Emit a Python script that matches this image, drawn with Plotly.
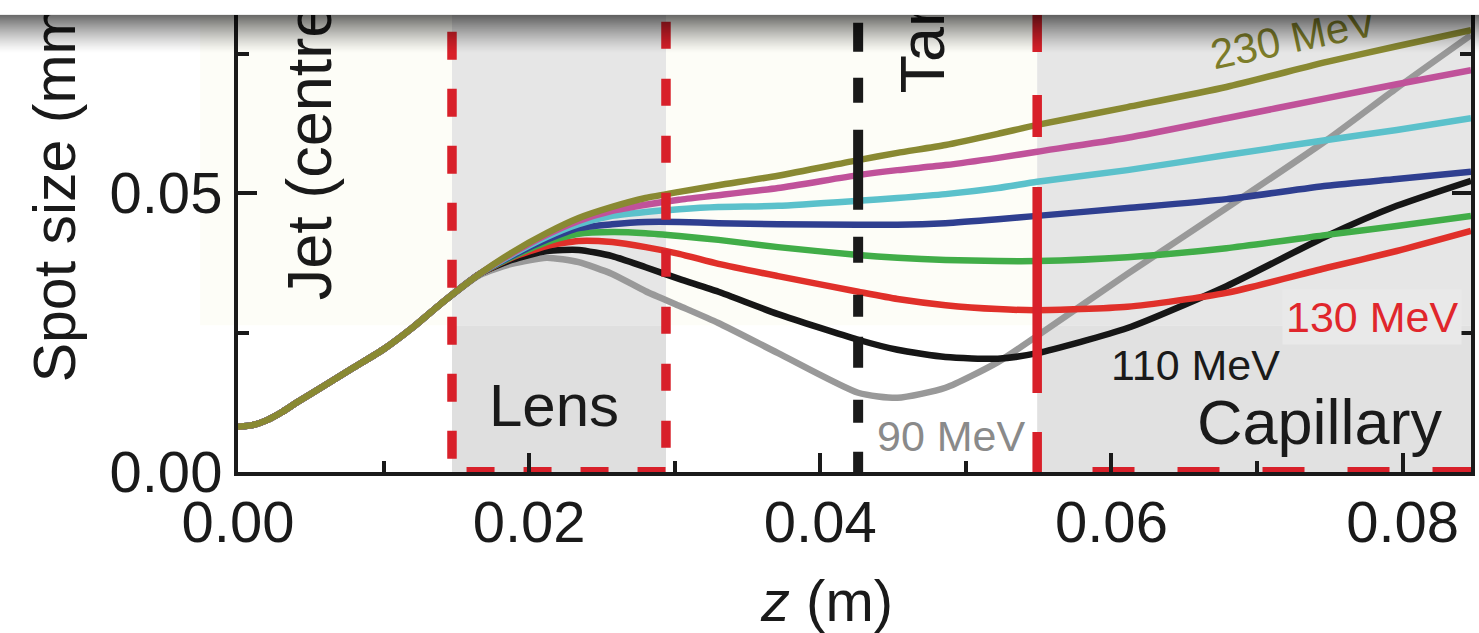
import plotly.graph_objects as go

# ---- data -------------------------------------------------------------
# beam axis position z (m) where all energies share the same envelope
Z_COMMON = [0.000, 0.001, 0.002, 0.003, 0.004, 0.006, 0.008, 0.010, 0.012, 0.014]
SPOT_COMMON = [0.0081, 0.0084, 0.0093, 0.0107, 0.0124, 0.0156, 0.0188, 0.0220, 0.0259, 0.0303]

# z positions (m) after the envelopes separate inside the lens
Z_SPLIT = [0.0166, 0.0188, 0.0212, 0.0234, 0.0257, 0.0280, 0.0303, 0.0330, 0.0371,
           0.0426, 0.0453, 0.0486, 0.0522, 0.0549, 0.0611, 0.0679, 0.0748, 0.0796, 0.0847]

ENERGIES = ["90 MeV", "110 MeV", "130 MeV", "150 MeV", "170 MeV", "190 MeV", "210 MeV", "230 MeV"]

SPOT_90 = [0.0353, 0.0373, 0.0384, 0.0376, 0.0355, 0.0324, 0.0298, 0.0267, 0.0213, 0.0142,
           0.0133, 0.0151, 0.0197, 0.0244, 0.0355, 0.0473, 0.0595, 0.0688, 0.0783]
SPOT_110 = [0.0355, 0.0380, 0.0396, 0.0398, 0.0387, 0.0367, 0.0346, 0.0323, 0.0283, 0.0237,
            0.0219, 0.0206, 0.0203, 0.0213, 0.0258, 0.0333, 0.0423, 0.0477, 0.0522]
SPOT_130 = [0.0355, 0.0384, 0.0405, 0.0414, 0.0412, 0.0403, 0.0391, 0.0373, 0.0351, 0.0323,
            0.0310, 0.0299, 0.0292, 0.0290, 0.0296, 0.0321, 0.0366, 0.0396, 0.0432]
SPOT_150 = [0.0355, 0.0385, 0.0412, 0.0427, 0.0430, 0.0428, 0.0423, 0.0416, 0.0403, 0.0389,
            0.0384, 0.0380, 0.0378, 0.0378, 0.0385, 0.0401, 0.0425, 0.0441, 0.0459]
SPOT_170 = [0.0355, 0.0387, 0.0416, 0.0437, 0.0444, 0.0448, 0.0448, 0.0446, 0.0444, 0.0443,
            0.0443, 0.0446, 0.0453, 0.0459, 0.0473, 0.0489, 0.0513, 0.0525, 0.0538]
SPOT_190 = [0.0355, 0.0389, 0.0421, 0.0444, 0.0459, 0.0466, 0.0471, 0.0475, 0.0477, 0.0486,
            0.0491, 0.0498, 0.0509, 0.0520, 0.0541, 0.0568, 0.0595, 0.0613, 0.0634]
SPOT_210 = [0.0355, 0.0391, 0.0425, 0.0450, 0.0468, 0.0479, 0.0488, 0.0496, 0.0509, 0.0532,
            0.0541, 0.0550, 0.0563, 0.0574, 0.0599, 0.0634, 0.0670, 0.0695, 0.0720]
SPOT_230 = [0.0355, 0.0393, 0.0428, 0.0455, 0.0475, 0.0491, 0.0502, 0.0514, 0.0531, 0.0559,
            0.0572, 0.0586, 0.0606, 0.0622, 0.0654, 0.0690, 0.0735, 0.0763, 0.0792]

SPOTS = [SPOT_90, SPOT_110, SPOT_130, SPOT_150, SPOT_170, SPOT_190, SPOT_210, SPOT_230]
COLORS = ["#999999", "#161616", "#e0302a", "#41ad48", "#2f3f90", "#5bc1cb", "#c0529a", "#898932"]

# beamline elements along z (m)
LENS_START, LENS_END = 0.0147, 0.0294
TARGET_Z = 0.0426
CAPILLARY_START = 0.0549

X_TICKS = [0.00, 0.02, 0.04, 0.06, 0.08]
Y_TICKS = [0.00, 0.05]

# ---- geometry / style -------------------------------------------------
XMAX, YMAX = 0.0847, 0.0819
W, H = 1479, 633
ML, MR, MT, MB = 238, 4, 15, 161
PW, PH = W - ML - MR, H - MT - MB
FONT = "Liberation Sans, Arial, Helvetica, sans-serif"
INK = "#1a1a1a"
RED = "#d8202a"
CREAM = "#fdfdf7"
JET_EDGE = 0.0263          # lower edge of the jet highlight (spot-size units)


def px_x(px):
    """horizontal page pixel -> paper fraction"""
    return (px - ML) / PW


def px_y(py):
    """vertical page pixel -> paper fraction"""
    return (H - MB - py) / PH


fig = go.Figure()

for name, color, spot in zip(ENERGIES, COLORS, SPOTS):
    fig.add_trace(go.Scatter(
        x=Z_COMMON + Z_SPLIT, y=SPOT_COMMON + spot, mode="lines", name=name,
        line=dict(color=color, width=6.5, shape="spline", smoothing=0.6),
        hoverinfo="skip", showlegend=False))

shapes = []

# background regions
shapes.append(dict(type="rect", xref="paper", yref="paper", x0=px_x(200), x1=LENS_START / XMAX,
                   y0=JET_EDGE / YMAX, y1=1.0, fillcolor=CREAM, line_width=0, layer="below"))
shapes.append(dict(type="rect", xref="x", yref="y", x0=LENS_END, x1=CAPILLARY_START,
                   y0=JET_EDGE, y1=YMAX, fillcolor=CREAM, line_width=0, layer="below"))
shapes.append(dict(type="rect", xref="x", yref="y", x0=LENS_START, x1=LENS_END,
                   y0=0, y1=JET_EDGE, fillcolor="#dfdfdf", line_width=0, layer="below"))
shapes.append(dict(type="rect", xref="x", yref="y", x0=LENS_START, x1=LENS_END,
                   y0=JET_EDGE, y1=YMAX, fillcolor="#e6e6e6", line_width=0, layer="below"))
shapes.append(dict(type="rect", xref="x", yref="y", x0=CAPILLARY_START, x1=XMAX,
                   y0=0, y1=JET_EDGE, fillcolor="#e1e1e1", line_width=0, layer="below"))
shapes.append(dict(type="rect", xref="x", yref="y", x0=CAPILLARY_START, x1=XMAX,
                   y0=JET_EDGE, y1=YMAX, fillcolor="#e6e6e6", line_width=0, layer="below"))

# dashed outlines along the axis
shapes.append(dict(type="line", xref="x", yref="y", x0=0.0157, x1=LENS_END, y0=0, y1=0,
                   line=dict(color=RED, width=10, dash="28px,29px"), layer="between"))
shapes.append(dict(type="line", xref="x", yref="y", x0=0.0587, x1=XMAX, y0=0, y1=0,
                   line=dict(color=RED, width=10, dash="42px,43px"), layer="between"))

# vertical element boundaries
shapes.append(dict(type="line", xref="x", yref="y", x0=LENS_START, x1=LENS_START, y0=0.0891, y1=0,
                   line=dict(color=RED, width=9.5, dash="28px,29px"), layer="above"))
shapes.append(dict(type="line", xref="x", yref="y", x0=LENS_END, x1=LENS_END, y0=0.0909, y1=0,
                   line=dict(color=RED, width=9.5, dash="27px,30px"), layer="above"))
shapes.append(dict(type="line", xref="x", yref="y", x0=CAPILLARY_START, x1=CAPILLARY_START, y0=YMAX, y1=0,
                   line=dict(color=RED, width=9.5, dash="37px,43px,42px,50px,206px,39px,60px,10px"),
                   layer="above"))
shapes.append(dict(type="line", xref="x", yref="y", x0=TARGET_Z, x1=TARGET_Z, y0=0.0805, y1=0,
                   line=dict(color=INK, width=10,
                             dash="29px,26px,25px,27px,80px,27px,26px,32px,22px,20px,31px,32px,23px,29px,25px"),
                   layer="above"))


def text_shape(text, x, y, size, color, angle):
    return dict(type="rect", xref="paper", yref="paper",
                x0=x - 0.0005, x1=x + 0.0005, y0=y - 0.0005, y1=y + 0.0005,
                line=dict(width=0), fillcolor="rgba(0,0,0,0)", layer="above",
                label=dict(text=text, textangle=angle, textposition="middle center",
                           font=dict(family=FONT, size=size, color=color)))


shapes.append(text_shape("Spot size (mm)", px_x(48), px_y(184), 59, INK, -90))
shapes.append(text_shape("Jet (centre)", px_x(303), px_y(141), 63, INK, -90))
shapes.append(text_shape("Target", px_x(918), px_y(6), 63, INK, -90))
shapes.append(text_shape("230 MeV", px_x(1296), px_y(34), 42, "#7d7d2a", -12))

# page band and drop shadow across the top edge
shapes.append(dict(type="rect", xref="paper", yref="paper", x0=px_x(-5), x1=px_x(W + 5),
                   y0=px_y(15), y1=px_y(-10), fillcolor="white", line_width=0, layer="above"))
shapes.append(dict(type="line", xref="paper", yref="paper", x0=px_x(-5), x1=px_x(W + 5),
                   y0=px_y(14.5), y1=px_y(14.5), line=dict(color="#ececec", width=1), layer="above"))
SHADOW_ROWS = 38
for i in range(SHADOW_ROWS):
    alpha = 0.58 * (1 - i / SHADOW_ROWS) ** 1.3
    shapes.append(dict(type="rect", xref="paper", yref="paper", x0=px_x(-5), x1=px_x(W + 5),
                       y0=px_y(15 + i + 1), y1=px_y(15 + i),
                       fillcolor="rgba(0,0,0,%.4f)" % alpha, line_width=0, layer="above"))


def note(text, x, y, size, color, **kw):
    return dict(text=text, x=x, y=y, xref="x", yref="y", showarrow=False,
                xanchor="center", yanchor="middle",
                font=dict(family=FONT, size=size, color=color), **kw)


annotations = [
    note("Lens", 0.0217, 0.0120, 60, INK),
    note("Capillary", 0.0743, 0.0090, 63, INK),
    note("90 MeV", 0.0490, 0.0065, 43, "#8a8a8a"),
    note("110 MeV", 0.0658, 0.0192, 43, INK),
    note("130 MeV", 0.0779, 0.0278, 43, "#e0262c", bgcolor="#e9e9e9", borderpad=3),
    dict(text="<i>z</i> (m)", x=px_x(828), y=px_y(600), xref="paper", yref="paper",
         xanchor="center", yanchor="middle",
         showarrow=False, font=dict(family=FONT, size=58, color=INK)),
]

axis_common = dict(showgrid=False, zeroline=False, showline=True, linewidth=4, linecolor=INK,
                   ticks="inside", tickwidth=4, tickcolor=INK, ticklen=19, tickformat=".2f",
                   tickfont=dict(family=FONT, size=58, color=INK))

fig.update_layout(
    width=W, height=H, margin=dict(l=ML, r=MR, t=MT, b=MB),
    paper_bgcolor="white", plot_bgcolor="white", showlegend=False,
    font=dict(family=FONT, size=58, color=INK),
    xaxis=dict(range=[0, XMAX], tickvals=X_TICKS, mirror=False, ticklabelstandoff=-4,
               minor=dict(dtick=0.01, tick0=0, ticks="inside", ticklen=11, tickwidth=4, tickcolor=INK),
               **axis_common),
    yaxis=dict(range=[0, YMAX], tickvals=Y_TICKS, mirror="ticks",
               minor=dict(dtick=0.025, tick0=0, ticks="inside", ticklen=11, tickwidth=4, tickcolor=INK),
               **axis_common),
    shapes=shapes, annotations=annotations,
)

fig.write_html("out.html")
